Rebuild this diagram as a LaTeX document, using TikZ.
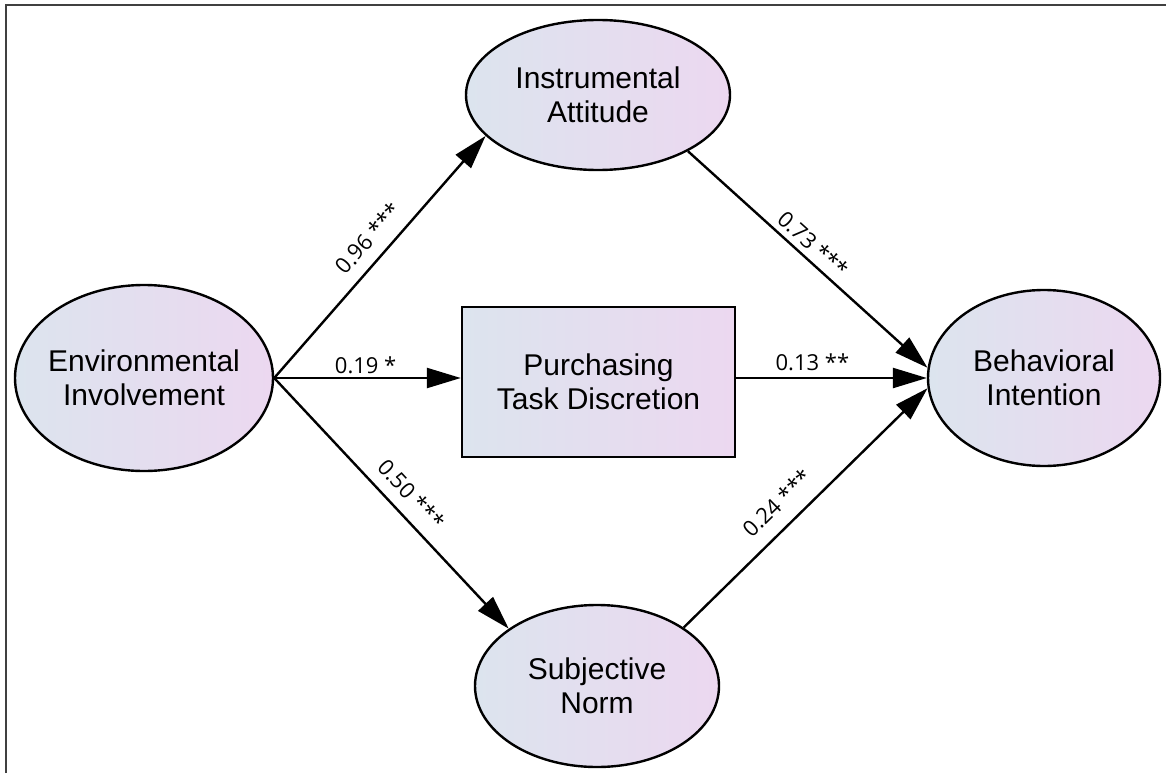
\documentclass[tikz,border=0pt]{standalone}
\usepackage{fontspec}
\setmainfont{Liberation Sans}
\newfontfamily\lblfont{Open Sans}
\usetikzlibrary{shapes.geometric,arrows.meta}
\definecolor{gL}{RGB}{220,228,238}
\definecolor{gR}{RGB}{236,216,240}
\definecolor{framegray}{RGB}{64,64,64}
\newcommand{\zw}[1]{\makebox[0pt]{#1}}
\begin{document}
\begin{tikzpicture}[x=1pt,y=-1pt,
  latent/.style={ellipse, draw=black, line width=2.4pt, left color=gL, right color=gR,
    inner sep=0pt, align=center, font=\fontsize{30}{34}\selectfont},
  observed/.style={rectangle, draw=black, line width=2.4pt, left color=gL, right color=gR,
    inner sep=0pt, align=center, font=\fontsize{30}{34}\selectfont,
    minimum width=273pt, minimum height=150pt},
  pathedge/.style={line width=2.4pt, -{Triangle[length=34pt,width=20pt]}},
  coef/.style={font=\lblfont\fontsize{22}{24}\selectfont, sloped, above}
]
\useasboundingbox (0,0) rectangle (1166,773);
\draw[framegray, line width=2.4pt] (6,773) -- (6,5) -- (1166,5);

\node[latent, minimum width=258pt, minimum height=186pt] (ei) at (144,378)
  {\zw{Environmental}\\\zw{Involvement}};
\node[latent, minimum width=264pt, minimum height=150pt] (ia) at (598,95)
  {\zw{Instrumental}\\\zw{Attitude}};
\node[observed] (ptd) at (598.5,382)
  {\zw{Purchasing}\\\zw{Task Discretion}};
\node[latent, minimum width=244pt, minimum height=162pt] (sn) at (597,686)
  {\zw{Subjective}\\\zw{Norm}};
\node[latent, minimum width=232pt, minimum height=176pt] (bi) at (1044,378)
  {\zw{Behavioral}\\\zw{Intention}};

\draw[pathedge] (ei.east) -- (ia.200.4)
  node[coef, pos=0.52, inner sep=12pt] {0.96 ***};
\draw[pathedge] (ei.east) -- (ei.east -| ptd.west)
  node[coef, pos=0.49, inner sep=3pt] {0.19 *};
\draw[pathedge] (ei.east) -- (sn.147.8)
  node[coef, pos=0.52, inner sep=11pt] {0.50 ***};
\draw[pathedge] (ia.328.6) -- (bi.175)
  node[coef, pos=0.48, inner sep=5.5pt] {0.73 ***};
\draw[pathedge] (ptd.east |- bi.west) -- (bi.west)
  node[coef, pos=0.4, inner sep=6pt] {0.13 **};
\draw[pathedge] (sn.34.8) -- (bi.185)
  node[coef, pos=0.45, inner sep=14pt] {0.24 ***};
\end{tikzpicture}
\end{document}
